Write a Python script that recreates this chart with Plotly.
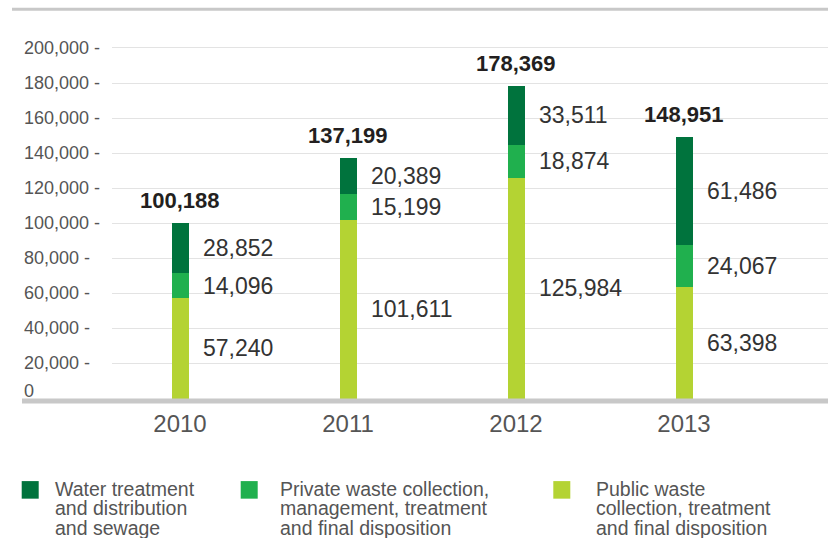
import plotly.graph_objects as go

# Spending by service line, per year (stacked from the bottom up)
years = ["2010", "2011", "2012", "2013"]
public_waste = [57240, 101611, 125984, 63398]
private_waste = [14096, 15199, 18874, 24067]
water_sewage = [28852, 20389, 33511, 61486]

series_names = [
    ["Public waste", "collection, treatment", "and final disposition"],
    ["Private waste collection,", "management, treatment", "and final disposition"],
    ["Water treatment", "and distribution", "and sewage"],
]
y_ticks = [0, 20000, 40000, 60000, 80000, 100000, 120000, 140000, 160000, 180000, 200000]

COLORS = ["#b4d333", "#20b04e", "#00733d"]
series = [public_waste, private_waste, water_sewage]

# plot-area geometry (pixels)
FIG_W, FIG_H = 828, 538
L, R, T, B = 112, 0, 30, 136.5
W = FIG_W - L - R
H = FIG_H - T - B
PLOT_BOTTOM = FIG_H - B
PX_PER_UNIT = 1.755 / 1000.0
Y_MIN = -(PLOT_BOTTOM - 399) / PX_PER_UNIT
Y_MAX = Y_MIN + H / PX_PER_UNIT
CAT_PX = 168.0
X_MIN = -(180 - L) / CAT_PX
X_MAX = X_MIN + W / CAT_PX
BAR_W = 17 / CAT_PX


def px_x(px):
    return (px - L) / W


def px_y(py):
    return (PLOT_BOTTOM - py) / H


fig = go.Figure()
for vals, names, color in zip(series, series_names, COLORS):
    fig.add_trace(go.Bar(
        x=years, y=vals, name=" ".join(names), marker=dict(color=color, line=dict(width=0)),
        width=BAR_W, showlegend=False, hoverinfo="x+y+name",
    ))

annotations = []
label_font = dict(family="Arial, Liberation Sans, sans-serif", size=23, color="#333333")

# segment values to the right of each bar, at the middle of each segment
for i, yr in enumerate(years):
    base = 0
    for vals in series:
        v = vals[i]
        annotations.append(dict(
            x=i, y=base + v / 2, xref="x", yref="y", text=f"{v:,}", showarrow=False,
            xanchor="left", yanchor="middle", xshift=20.5, font=label_font,
        ))
        base += v
    # bold total above the bar
    annotations.append(dict(
        x=i, y=base, xref="x", yref="y", text=f"<b>{base:,}</b>", showarrow=False,
        xanchor="center", yanchor="bottom", yshift=8,
        font=dict(family="Arial, Liberation Sans, sans-serif", size=22, color="#231f20"),
    ))

# y tick labels, left aligned
for t in y_ticks:
    annotations.append(dict(
        x=px_x(22), y=t, xref="paper", yref="y", text=f"{t:,} -" if t else "0", showarrow=False,
        xanchor="left", yanchor="middle", yshift=8 if t == 0 else 0,
        font=dict(family="Arial, Liberation Sans, sans-serif", size=18, color="#555555"),
    ))

# legend
shapes = []
for slot, si in enumerate([2, 1, 0]):  # water, private, public from left to right
    sq_x = [21.7, 240.7, 553.3][slot]
    tx = [53, 278, 594][slot]
    shapes.append(dict(
        type="rect", xref="paper", yref="paper",
        x0=px_x(sq_x), x1=px_x(sq_x + 17), y0=px_y(499.3), y1=px_y(481.7),
        fillcolor=COLORS[si], line=dict(width=0),
    ))
    for li, line in enumerate(series_names[si]):
        annotations.append(dict(
            x=px_x(tx), y=px_y(489.3 + 19.7 * li), xref="paper", yref="paper", text=line,
            showarrow=False, xanchor="left", yanchor="middle",
            font=dict(family="Arial, Liberation Sans, sans-serif", size=19.5, color="#555555"),
        ))

# thick baseline and top rule
shapes.append(dict(type="line", xref="paper", yref="paper", x0=px_x(22), x1=1, y0=0, y1=0,
                   line=dict(color="#c8c8c8", width=5)))
shapes.append(dict(type="line", xref="paper", yref="paper", x0=px_x(12), x1=1,
                   y0=px_y(9.3), y1=px_y(9.3), line=dict(color="#c8c8c8", width=3)))

fig.update_layout(
    width=FIG_W, height=FIG_H,
    margin=dict(l=L, r=R, t=T, b=B, pad=0),
    paper_bgcolor="white", plot_bgcolor="white",
    barmode="stack", bargap=0,
    annotations=annotations, shapes=shapes,
    xaxis=dict(
        type="category", range=[X_MIN, X_MAX], showgrid=False, zeroline=False, showline=False,
        ticks="", ticklabelstandoff=6,
        tickfont=dict(family="Arial, Liberation Sans, sans-serif", size=24, color="#555555"),
    ),
    yaxis=dict(
        range=[Y_MIN, Y_MAX], tickvals=[t for t in y_ticks if t], showticklabels=False,
        showgrid=True, gridcolor="#e3e3e3", gridwidth=1, zeroline=False, showline=False,
    ),
    showlegend=False,
)

fig.write_html("out.html")
